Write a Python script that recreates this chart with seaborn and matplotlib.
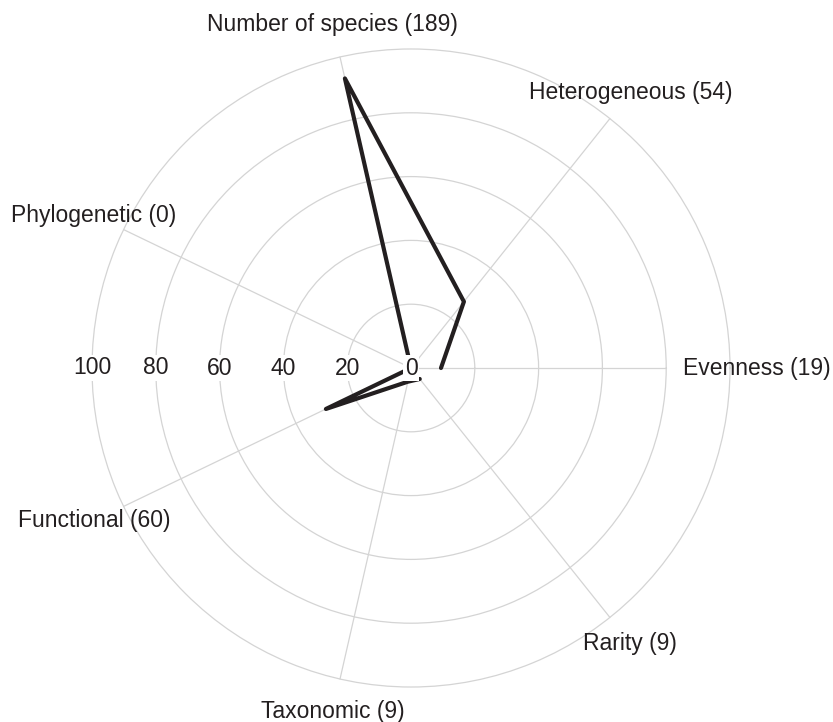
import numpy as np
import pandas as pd
import matplotlib.pyplot as plt
import seaborn as sns

# --- data (share of studies, %; counts in the labels) ---
categories = ["Evenness", "Heterogeneous", "Number of species", "Phylogenetic",
              "Functional", "Taxonomic", "Rarity"]
study_counts = [19, 54, 189, 0, 60, 9, 9]
percent_studies = [9.4, 26.6, 93.1, 0.0, 29.6, 4.4, 4.4]
radial_ticks = [0, 20, 40, 60, 80, 100]

GRID = "#d4d4d4"
INK = "#231f20"

sns.set_style("white")
plt.rcParams["font.family"] = ["Liberation Sans", "DejaVu Sans"]

fig = plt.figure(figsize=(8.33, 7.22), dpi=100)
rad_px = 322.2
ax = fig.add_axes([(411 - rad_px) / 833, (354 - rad_px) / 722,
                   2 * rad_px / 833, 2 * rad_px / 722], projection="polar")

angles = np.arange(len(categories)) * 2 * np.pi / len(categories)
df = pd.DataFrame({"angle": np.append(angles, angles[0]),
                   "value": percent_studies + [percent_studies[0]]})

sns.lineplot(data=df, x="angle", y="value", sort=False, color=INK,
             lw=3, ax=ax, zorder=3)

ax.set_ylim(0, 101)
ax.set_yticks(radial_ticks[1:])
ax.set_yticklabels([])
ax.yaxis.grid(True, color=GRID, lw=0.9)
ax.xaxis.grid(False)
ax.set_xticks([])
ax.spines["polar"].set_visible(False)
ax.set_xlabel("")
ax.set_ylabel("")

# spokes (the Evenness one stops at the 80 ring in the original)
for a, cat in zip(angles, categories):
    end = 80 if cat == "Evenness" else 100
    ax.plot([a, a], [0, end], color=GRID, lw=0.9, zorder=1)

# category labels
for a, cat, n in zip(angles, categories, study_counts):
    r_lab = 108.5 if cat == "Evenness" else 110.3
    ax.text(a, r_lab, f"{cat} ({n})", ha="center", va="center",
            fontsize=16.5, color=INK, clip_on=False)

# radial labels along the left horizontal
for t in radial_ticks:
    ax.text(np.pi, t, str(t), ha="center", va="center", fontsize=16.5,
            color=INK, zorder=5,
            bbox=dict(fc="white", ec="none", pad=1))

plt.savefig("out.png", dpi=100)
